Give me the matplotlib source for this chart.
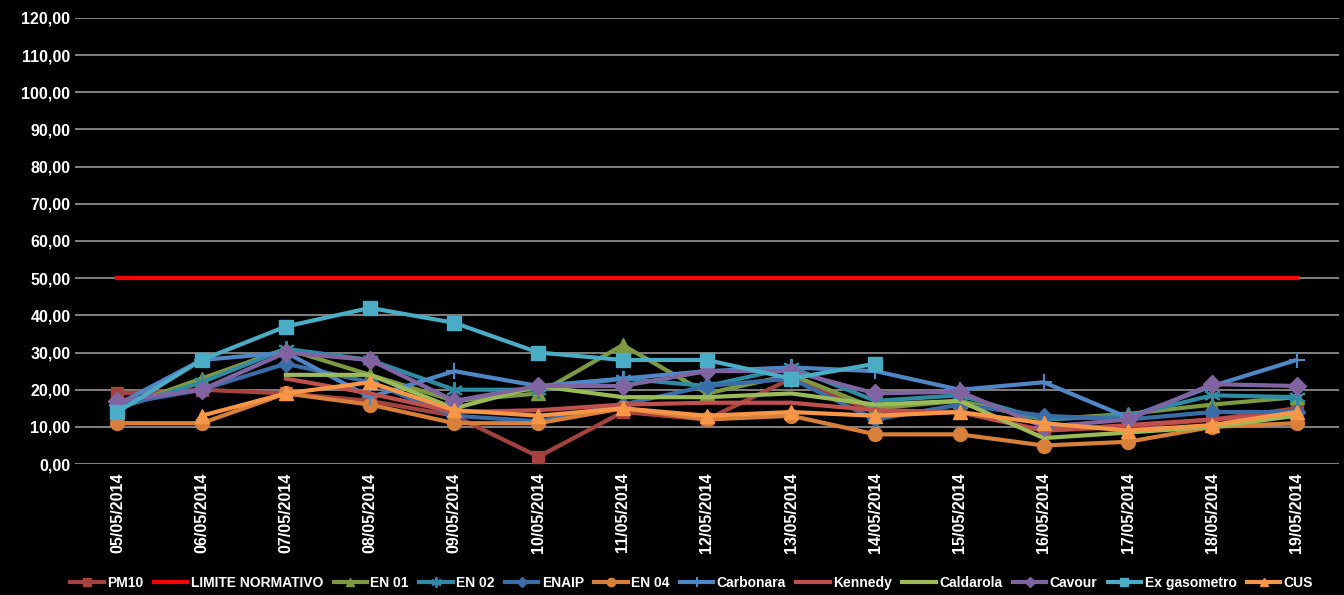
import numpy as np
import matplotlib
matplotlib.use('Agg')
from matplotlib import pyplot as plt
from matplotlib.ticker import FuncFormatter

plt.rcParams['font.family'] = ['Liberation Sans', 'DejaVu Sans']

nan = np.nan
dates = ['05/05/2014', '06/05/2014', '07/05/2014', '08/05/2014', '09/05/2014',
         '10/05/2014', '11/05/2014', '12/05/2014', '13/05/2014', '14/05/2014',
         '15/05/2014', '16/05/2014', '17/05/2014', '18/05/2014', '19/05/2014']

pm10 = [19, 20, 19, 17, 13, 2, 14, 12, 23, 14, 14, 9, 10, 12, 15]
limite = [50] * 15
en01 = [15, 23, 31, 24, 17, 19, 32, 19, 24, 15, 17, 12, 13.5, 16, 18]
en02 = [15, 22, 31, 28, 20, 20, 23, 21, 26, 17, 18.5, 12, 13, 18.5, 18]
enaip = [16, 20, 27, 22, 13, 11.5, 16, 21, 23, 12, 16, 13, 12, 14, 14]
en04 = [11, 11, 19, 16, 11, 11, 15, 12, 13, 8, 8, 5, 6, 10, 11]
carbonara = [16, 28, 30, 18, 25, 21, 23, 25, 26, 25, 20, 22, 12.5, 21, 28]
kennedy = [nan, nan, 23, 19, 14, 14.5, 16, 16.5, 16.5, 14.5, 14, 9, 10.5, 12, 13.5]
caldarola = [nan, nan, 24, 24, 15, 21, 18, 18, 19, 16, 17, 7, 8.5, 10, 13]
cavour = [17, 20, 30, 28, 17, 21, 21, 25, 25, 19, 19.5, 10, 12, 21.5, 21]
ex_gasometro = [14, 28, 37, 42, 38, 30, 28, 28, 23, 27, nan, nan, nan, nan, nan]
cus = [nan, 13, 19, 22, 14.5, 13, 15, 13, 14, 13, 14, 11, 9, 10.5, 14]

series = [
    ('PM10', pm10, '#A5423F', 's', 9),
    ('LIMITE NORMATIVO', limite, '#FF0000', None, 0),
    ('EN 01', en01, '#7E9A40', '^', 10),
    ('EN 02', en02, '#2F8AA3', (6, 2, 0), 12),
    ('ENAIP', enaip, '#3A6DA8', 'D', 8),
    ('EN 04', en04, '#D8803A', 'o', 10),
    ('Carbonara', carbonara, '#4F86C6', '+', 12),
    ('Kennedy', kennedy, '#C0504D', None, 0),
    ('Caldarola', caldarola, '#9BBB59', None, 0),
    ('Cavour', cavour, '#8064A2', 'D', 9),
    ('Ex gasometro', ex_gasometro, '#4BACC6', 's', 10),
    ('CUS', cus, '#F79646', '^', 10),
]

fig = plt.figure(figsize=(13.44, 5.95), dpi=100, facecolor='black')
ax = fig.add_axes([0.056, 0.22, 0.94, 0.75])
ax.set_facecolor('black')

x = np.arange(len(dates))
for name, vals, col, mk, ms in series:
    ax.plot(x, vals, color=col, lw=3, marker=mk, markersize=ms,
            markeredgewidth=1.5 if mk in ('+', (6, 2, 0)) else 1,
            markeredgecolor=col, markerfacecolor=col, label=name)

ax.set_xlim(-0.5, len(dates) - 0.5)
ax.set_ylim(0, 120)
ax.set_yticks(np.arange(0, 121, 10))
ax.yaxis.set_major_formatter(FuncFormatter(lambda v, p: f'{v:.2f}'.replace('.', ',')))
ax.set_xticks(x)
ax.set_xticklabels(dates, rotation=90)
ax.grid(axis='y', color='#8C8C8C', lw=1.3)
ax.set_axisbelow(True)
for s in ax.spines.values():
    s.set_visible(False)
ax.tick_params(colors='white', length=0, labelsize=11.5)
ax.tick_params(axis='x', pad=6)
for lab in ax.get_xticklabels() + ax.get_yticklabels():
    lab.set_fontweight('bold')

leg = ax.legend(loc='lower center', bbox_to_anchor=(0.488, -0.31), ncol=12,
                frameon=False, handlelength=2.4, columnspacing=0.75,
                handletextpad=0.25, markerscale=0.6,
                prop={'weight': 'bold', 'size': 10})
for t in leg.get_texts():
    t.set_color('white')

fig.savefig('out.png', dpi=100, facecolor='black')
